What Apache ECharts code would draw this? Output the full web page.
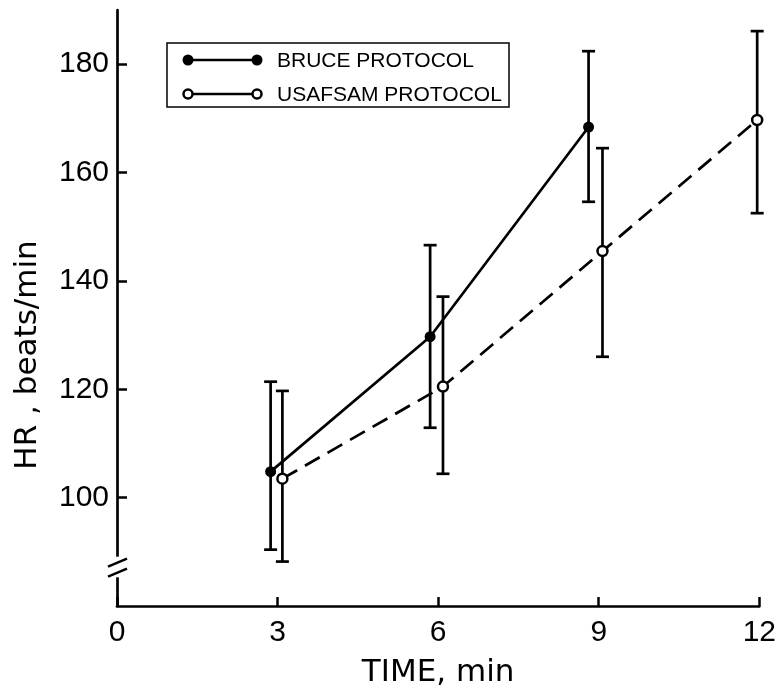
<!DOCTYPE html>
<html>
<head>
<meta charset="utf-8">
<script src="https://cdn.jsdelivr.net/npm/echarts@6/dist/echarts.min.js"></script>
<style>
  html, body { margin: 0; padding: 0; background: #fff; }
  #chart { width: 779px; height: 693px; }
</style>
</head>
<body>
<div id="chart"></div>
<script>
// values (points are slightly offset in time like the original)
const bruceTime = [2.87, 5.85, 8.81];
const bruceHR = [104.8, 129.7, 168.4];
const bruceLow = [90.4, 112.9, 154.6];
const bruceHigh = [121.4, 146.6, 182.4];

const usafTime = [3.09, 6.09, 9.07, 11.96];
const usafHR = [103.5, 120.5, 145.5, 169.7];
const usafLow = [88.2, 104.4, 126.0, 152.5];
const usafHigh = [119.7, 137.1, 164.5, 186.1];

const xTicks = [0, 3, 6, 9, 12];
const yTicks = [100, 120, 140, 160, 180];

const seriesNames = ['BRUCE PROTOCOL', 'USAFSAM PROTOCOL'];

const chart = echarts.init(document.getElementById('chart'));

const errorBars = (params, api) => {
  const x = api.value(0);
  const top = api.coord([x, api.value(2)]);
  const bot = api.coord([x, api.value(1)]);
  const w = 6.5;
  const st = { stroke: '#000', lineWidth: 2.7 };
  return {
    type: 'group',
    children: [
      { type: 'line', shape: { x1: top[0], y1: top[1], x2: bot[0], y2: bot[1] }, style: st },
      { type: 'line', shape: { x1: top[0] - w, y1: top[1], x2: top[0] + w, y2: top[1] }, style: st },
      { type: 'line', shape: { x1: bot[0] - w, y1: bot[1], x2: bot[0] + w, y2: bot[1] }, style: st }
    ]
  };
};

const labelFont = { color: '#000', fontSize: 30, fontFamily: '"Liberation Sans Narrow", "Liberation Sans", sans-serif' };
const nameFont = { color: '#000', fontSize: 31, fontFamily: '"DejaVu Sans", sans-serif' };

chart.setOption({
  animation: false,
  backgroundColor: '#fff',
  grid: { left: 117, right: 14, top: 10, bottom: 86 },
  xAxis: {
    type: 'value',
    min: 0,
    max: 12,
    interval: 3,
    name: 'TIME, min',
    nameLocation: 'middle',
    nameGap: 51,
    nameTextStyle: nameFont,
    axisLine: { lineStyle: { color: '#000', width: 2.7 } },
    axisTick: { inside: true, length: 9, lineStyle: { color: '#000', width: 2.5 }, customValues: xTicks },
    axisLabel: { margin: 12, ...labelFont, customValues: xTicks },
    splitLine: { show: false }
  },
  yAxis: {
    type: 'value',
    min: 80,
    max: 190,
    interval: 20,
    name: 'HR , beats/min',
    nameLocation: 'middle',
    nameGap: 74,
    nameTextStyle: { ...nameFont, padding: [0, 94, 0, 0] },
    axisLine: { lineStyle: { color: '#000', width: 2.7 } },
    axisTick: { inside: true, length: 10, lineStyle: { color: '#000', width: 2.5 }, customValues: yTicks },
    axisLabel: { margin: 8, ...labelFont, customValues: yTicks },
    splitLine: { show: false }
  },
  series: [
    {
      name: seriesNames[0] + ' SD',
      type: 'custom',
      z: 2,
      renderItem: errorBars,
      data: bruceTime.map((t, i) => [t, bruceLow[i], bruceHigh[i]])
    },
    {
      name: seriesNames[1] + ' SD',
      type: 'custom',
      z: 2,
      renderItem: errorBars,
      data: usafTime.map((t, i) => [t, usafLow[i], usafHigh[i]])
    },
    {
      name: seriesNames[0],
      type: 'line',
      z: 3,
      symbol: 'circle',
      symbolSize: 11,
      itemStyle: { color: '#000' },
      lineStyle: { color: '#000', width: 2.7 },
      data: bruceTime.map((t, i) => [t, bruceHR[i]])
    },
    {
      name: seriesNames[1],
      type: 'line',
      z: 3,
      symbol: 'circle',
      symbolSize: 10,
      itemStyle: { color: '#fff', borderColor: '#000', borderWidth: 2.5 },
      lineStyle: { color: '#000', width: 2.7, type: [17, 9] },
      data: usafTime.map((t, i) => [t, usafHR[i]])
    }
  ]
});

// axis break marks and the boxed legend
const ax = chart.convertToPixel({ xAxisIndex: 0 }, 0);
const gapTop = chart.convertToPixel({ yAxisIndex: 0 }, 89.1);
const gapBot = chart.convertToPixel({ yAxisIndex: 0 }, 85.3);
const slash = { stroke: '#000', lineWidth: 2.5 };
const legFont = { fill: '#000', fontSize: 21, fontFamily: '"Liberation Sans", sans-serif', verticalAlign: 'middle' };

chart.setOption({
  graphic: [
    { type: 'rect', z: 50, shape: { x: ax - 6, y: gapTop, width: 12, height: gapBot - gapTop }, style: { fill: '#fff' } },
    { type: 'line', z: 51, shape: { x1: ax - 9, y1: gapTop + 10, x2: ax + 10, y2: gapTop + 2 }, style: slash },
    { type: 'line', z: 51, shape: { x1: ax - 9, y1: gapTop + 20, x2: ax + 10, y2: gapTop + 12 }, style: slash },

    { type: 'rect', z: 50, shape: { x: 167, y: 43, width: 342, height: 64 }, style: { fill: '#fff', stroke: '#000', lineWidth: 1.5 } },
    { type: 'line', z: 51, shape: { x1: 188, y1: 60, x2: 257, y2: 60 }, style: slash },
    { type: 'circle', z: 52, shape: { cx: 188, cy: 60, r: 5.5 }, style: { fill: '#000' } },
    { type: 'circle', z: 52, shape: { cx: 257, cy: 60, r: 5.5 }, style: { fill: '#000' } },
    { type: 'text', z: 52, x: 277, y: 61, style: { text: seriesNames[0], ...legFont } },
    { type: 'line', z: 51, shape: { x1: 188, y1: 94, x2: 257, y2: 94 }, style: slash },
    { type: 'circle', z: 52, shape: { cx: 188, cy: 94, r: 4.5 }, style: { fill: '#fff', stroke: '#000', lineWidth: 2.5 } },
    { type: 'circle', z: 52, shape: { cx: 257, cy: 94, r: 4.5 }, style: { fill: '#fff', stroke: '#000', lineWidth: 2.5 } },
    { type: 'text', z: 52, x: 277, y: 95, style: { text: seriesNames[1], ...legFont } }
  ]
});
</script>
</body>
</html>
